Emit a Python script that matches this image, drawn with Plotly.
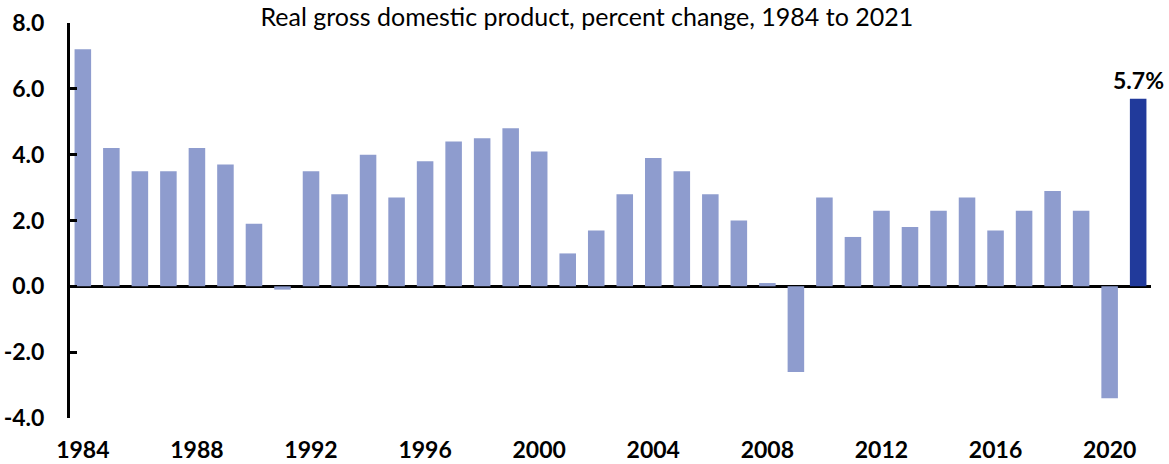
import plotly.graph_objects as go

years = list(range(1984, 2022))
gdp_change = [7.2, 4.2, 3.5, 3.5, 4.2, 3.7, 1.9, -0.1, 3.5, 2.8,
              4.0, 2.7, 3.8, 4.4, 4.5, 4.8, 4.1, 1.0, 1.7, 2.8,
              3.9, 3.5, 2.8, 2.0, 0.1, -2.6, 2.7, 1.5, 2.3, 1.8,
              2.3, 2.7, 1.7, 2.3, 2.9, 2.3, -3.4, 5.7]
x_tick_years = [1984, 1988, 1992, 1996, 2000, 2004, 2008, 2012, 2016, 2020]
y_ticks = [-4, -2, 0, 2, 4, 6, 8]
title_text = "Real gross domestic product, percent change, 1984 to 2021"
highlight_label = "5.7%"

light = "#8E9CCE"
dark = "#213A9B"
colors = [dark if y == 2021 else light for y in years]
FONT = "Lato, Liberation Sans, sans-serif"

fig = go.Figure()
fig.add_trace(go.Bar(x=years, y=gdp_change, marker=dict(color=colors, line=dict(width=0)),
                     width=0.58, hoverinfo="x+y", cliponaxis=False))

fig.add_annotation(x=2021, y=gdp_change[-1], text="<b>" + highlight_label + "</b>",
                   showarrow=False, yanchor="bottom", yshift=3,
                   font=dict(size=23, color="black", family=FONT))

fig.update_layout(
    width=1169, height=464,
    margin=dict(l=70, r=18, t=23, b=46, autoexpand=False),
    paper_bgcolor="white", plot_bgcolor="white",
    showlegend=False,
    title=dict(text=title_text, x=0.502, xanchor="center", y=0.962, yanchor="middle",
               font=dict(size=25, color="black", family=FONT)),
    font=dict(family=FONT, color="black"),
)
fig.update_xaxes(range=[1983.55, 2021.45], tickmode="array", tickvals=x_tick_years,
                 ticktext=[str(v) for v in x_tick_years], showgrid=False, zeroline=False,
                 showline=False, ticks="outside", ticklen=11, tickcolor="rgba(0,0,0,0)",
                 automargin=False,
                 tickfont=dict(size=23, family=FONT, color="black", weight="bold"))
fig.update_yaxes(range=[-4, 8], tickmode="array", tickvals=y_ticks,
                 ticktext=[f"{v:.1f}" for v in y_ticks], showgrid=False,
                 zeroline=True, zerolinecolor="black", zerolinewidth=3,
                 showline=True, linecolor="black", linewidth=3,
                 ticks="inside", ticklen=7, tickwidth=3, tickcolor="black",
                 ticklabelstandoff=18, automargin=False,
                 tickfont=dict(size=23, family=FONT, color="black", weight="bold"))

fig.write_html("out.html", config={"displayModeBar": False},
               post_script="document.body.style.margin='0px';document.body.style.overflow='hidden';")
